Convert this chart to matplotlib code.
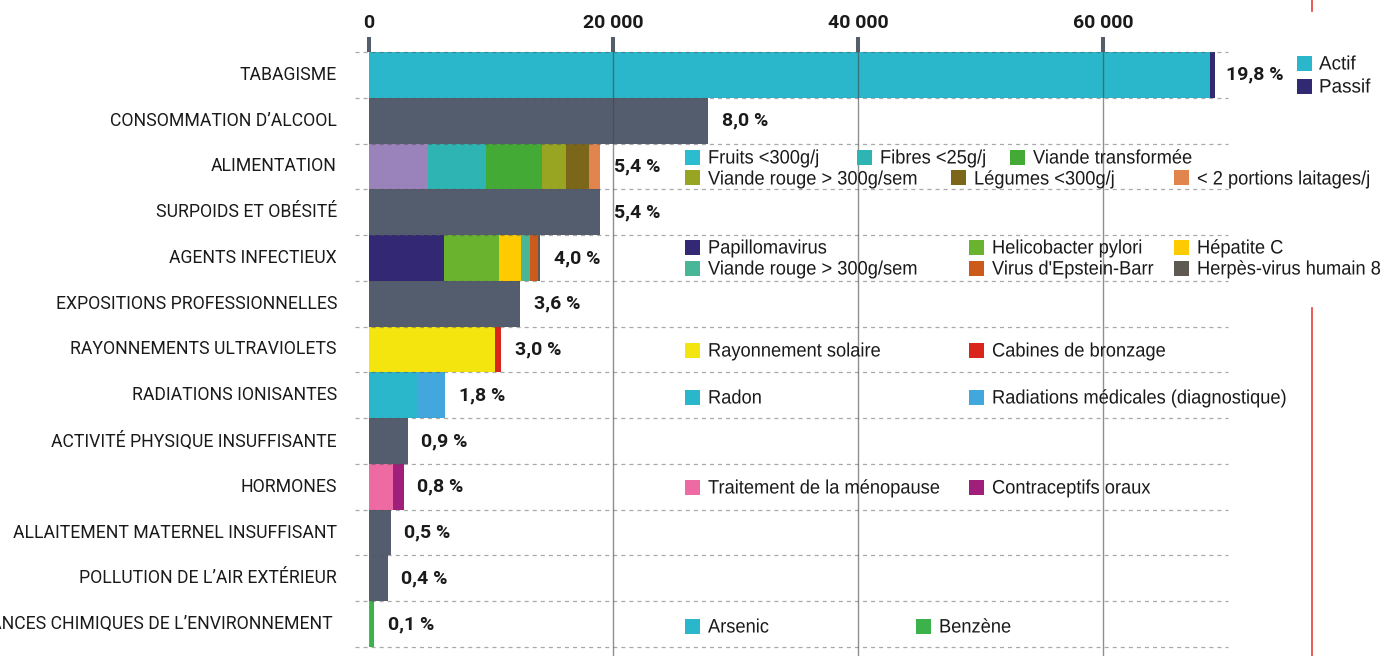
import matplotlib
matplotlib.use("Agg")
import matplotlib.pyplot as plt
from matplotlib.patches import Rectangle
from matplotlib.patheffects import AbstractPathEffect
from matplotlib.transforms import Affine2D

plt.rcParams['lines.scale_dashes'] = False

# ---------------- data ----------------
categories = [
    "TABAGISME", "CONSOMMATION D\u2019ALCOOL", "ALIMENTATION", "SURPOIDS ET OBÉSITÉ",
    "AGENTS INFECTIEUX", "EXPOSITIONS PROFESSIONNELLES", "RAYONNEMENTS ULTRAVIOLETS",
    "RADIATIONS IONISANTES", "ACTIVITÉ PHYSIQUE INSUFFISANTE", "HORMONES",
    "ALLAITEMENT MATERNEL INSUFFISANT", "POLLUTION DE L\u2019AIR EXTÉRIEUR",
    "SUBSTANCES CHIMIQUES DE L\u2019ENVIRONNEMENT",
]
percent_labels = ["19,8 %", "8,0 %", "5,4 %", "5,4 %", "4,0 %", "3,6 %", "3,0 %",
                  "1,8 %", "0,9 %", "0,8 %", "0,5 %", "0,4 %", "0,1 %"]

tabagisme = [68720, 410]
alcool = [27760]
alimentation = [4885, 4746, 4525, 1939, 1907, 900]
surpoids = [18900]
infectieux = [6137, 4500, 1800, 736, 655, 220]
professionnelles = [12356]
ultraviolets = [10310, 491]
ionisantes = [4067, 2152]
activite = [3191]
hormones = [1964, 900]
allaitement = [1800]
pollution = [1555]
chimiques = [140, 295]

GRAY = "#545d6e"
tabagisme_colors = ["#2bb7cb", "#312a72"]
alimentation_colors = ["#9a82bb", "#2db4b3", "#43aa35", "#98a523", "#7c6619", "#e2844d"]
infectieux_colors = ["#322874", "#6ab32e", "#fecb00", "#49b797", "#cc5a1a", "#5f5954"]
uv_colors = ["#f5e50f", "#d9251b"]
ionisantes_colors = ["#2bb7cb", "#42a7dd"]
hormones_colors = ["#ee6aa3", "#a01f7b"]
chimiques_colors = ["#2bb7cb", "#3bb24a"]

series = [
    (tabagisme, tabagisme_colors), (alcool, [GRAY]), (alimentation, alimentation_colors),
    (surpoids, [GRAY]), (infectieux, infectieux_colors), (professionnelles, [GRAY]),
    (ultraviolets, uv_colors), (ionisantes, ionisantes_colors), (activite, [GRAY]),
    (hormones, hormones_colors), (allaitement, [GRAY]), (pollution, [GRAY]),
    (chimiques, chimiques_colors),
]

xticks = [0, 20000, 40000, 60000]
xtick_labels = ["0", "20 000", "40 000", "60 000"]

legend_tabac = [("Actif", "#2bb7cb"), ("Passif", "#312a72")]
legend_alim = [
    [("Fruits <300g/j", "#2bbccf"), ("Fibres <25g/j", "#2db4b3"), ("Viande transformée", "#43aa35")],
    [("Viande rouge > 300g/sem", "#98a523"), ("Légumes <300g/j", "#7c6619"), ("< 2 portions laitages/j", "#e2844d")],
]
legend_inf = [
    [("Papillomavirus", "#322874"), ("Helicobacter pylori", "#6ab32e"), ("Hépatite C", "#fecb00")],
    [("Viande rouge > 300g/sem", "#49b797"), ("Virus d'Epstein-Barr", "#cc5a1a"), ("Herpès-virus humain 8", "#5f5954")],
]
legend_uv = [("Rayonnement solaire", "#f5e50f"), ("Cabines de bronzage", "#d9251b")]
legend_ion = [("Radon", "#2bb7cb"), ("Radiations médicales (diagnostique)", "#42a7dd")]
legend_horm = [("Traitement de la ménopause", "#ee6aa3"), ("Contraceptifs oraux", "#a01f7b")]
legend_chim = [("Arsenic", "#2bb7cb"), ("Benzène", "#3bb24a")]


class Condense(AbstractPathEffect):
    """Draw text horizontally condensed (emulates a condensed typeface)."""
    def __init__(self, sx):
        super().__init__()
        self.sx = sx

    def draw_path(self, renderer, gc, tpath, affine, rgbFace=None):
        renderer.draw_path(gc, tpath, Affine2D().scale(self.sx, 1) + affine, rgbFace)


# ---------------- layout ----------------
W, H = 1385, 656
fig = plt.figure(figsize=(W / 100, H / 100), dpi=100)
X0 = 368.5
PX_PER = 244.8 / 20000
TOP, BOT = 52, 647
xmax = (W - X0) / PX_PER
ax = fig.add_axes([X0 / W, (H - BOT) / H, (W - X0) / W, (BOT - TOP) / H])
n = len(categories)
ax.set_xlim(0, xmax)
ax.set_ylim(n - 0.5, -0.5)
for s in ax.spines.values():
    s.set_visible(False)

LEG_FONT = ["Liberation Sans", "DejaVu Sans"]
LAB_FONT = ["Roboto", "DejaVu Sans"]

# bars
for i, (vals, cols) in enumerate(series):
    left = 0
    for v, c in zip(vals, cols):
        ax.barh(i, v, left=left, height=1.0, color=c, linewidth=0, zorder=2)
        left += v
    ax.annotate(percent_labels[i], xy=(left, i), xytext=(8 if i == 0 else 10, 0),
                textcoords="offset points", va="center", ha="left",
                fontsize=14, fontweight="bold", family=LAB_FONT, color="#1a1a1a", zorder=5)

# row dashed lines
xl0 = -(X0 - 355) / PX_PER
xl1 = (1228 - X0) / PX_PER
for k in range(n + 1):
    ax.plot([xl0, xl1], [k - 0.5, k - 0.5], color="#555555", alpha=0.5, lw=0.9,
            dashes=(2.9, 2.9), clip_on=False, zorder=4)

# vertical grid lines
ybot = n - 0.5 + (H - BOT) / ((BOT - TOP) / n)
for t in xticks[1:]:
    ax.plot([t, t], [-0.5, ybot], color="#444444", alpha=0.6, lw=1.0, clip_on=False, zorder=3)

# top ticks
ax.xaxis.set_ticks_position("top")
ax.set_xticks(xticks)
ax.set_xticklabels(xtick_labels, fontsize=14, fontweight="bold", family=LAB_FONT, color="#1a1a1a")
ax.tick_params(axis="x", length=10.8, width=2.9, color="#555d6b", pad=3.5)
ax.set_yticks([])

# category labels
for i, c in enumerate(categories):
    xr = 337 if i < n - 1 else 333
    ax.annotate(c, xy=(0, i), xycoords="data", xytext=(xr - X0, 0),
                textcoords="offset pixels", ha="right", va="center",
                fontsize=12.7, family=LAB_FONT, color="#1a1a1a", annotation_clip=False)


def fx(x):
    return x / W


def fy(y):
    return (H - y) / H


SQ = 15
LEG_FS = 14
COND = [Condense(0.94)]


def legend_item(x, y, label, color, text_dx=23, sx=None):
    fig.patches.append(Rectangle((fx(x), fy(y + SQ / 2)), SQ / W, SQ / H,
                                 transform=fig.transFigure, color=color, lw=0, zorder=6))
    t = fig.text(fx(x + text_dx), fy(y), label, ha="left", va="center_baseline",
                 fontsize=LEG_FS, family=LEG_FONT, color="#1a1a1a", zorder=6)
    t.set_path_effects([Condense(sx)] if sx else COND)


for j, (lab, col) in enumerate(legend_tabac):
    legend_item(1297, 63 + 23 * j, lab, col, text_dx=22, sx=0.97)

alim_cols = [[685, 857, 1010], [685, 951, 1174]]
for li, line in enumerate(legend_alim):
    for ci, (lab, col) in enumerate(line):
        legend_item(alim_cols[li][ci], 157 + 21 * li, lab, col)

inf_cols = [685, 969, 1174]
for li, line in enumerate(legend_inf):
    for ci, (lab, col) in enumerate(line):
        legend_item(inf_cols[ci], 247 + 21 * li, lab, col)

for ci, (lab, col) in enumerate(legend_uv):
    legend_item([685, 969][ci], 350, lab, col)
for ci, (lab, col) in enumerate(legend_ion):
    legend_item([685, 969][ci], 397, lab, col)
for ci, (lab, col) in enumerate(legend_horm):
    legend_item([685, 969][ci], 487, lab, col)
for ci, (lab, col) in enumerate(legend_chim):
    legend_item([685, 916][ci], 626, lab, col)

fig.add_artist(plt.Line2D([fx(1312), fx(1312)], [fy(0), fy(11)], color="#e8403a", lw=1.2,
                          transform=fig.transFigure))
fig.add_artist(plt.Line2D([fx(1312), fx(1312)], [fy(308), fy(656)], color="#e8403a", lw=1.2,
                          transform=fig.transFigure))

fig.savefig("out.png", dpi=100)
